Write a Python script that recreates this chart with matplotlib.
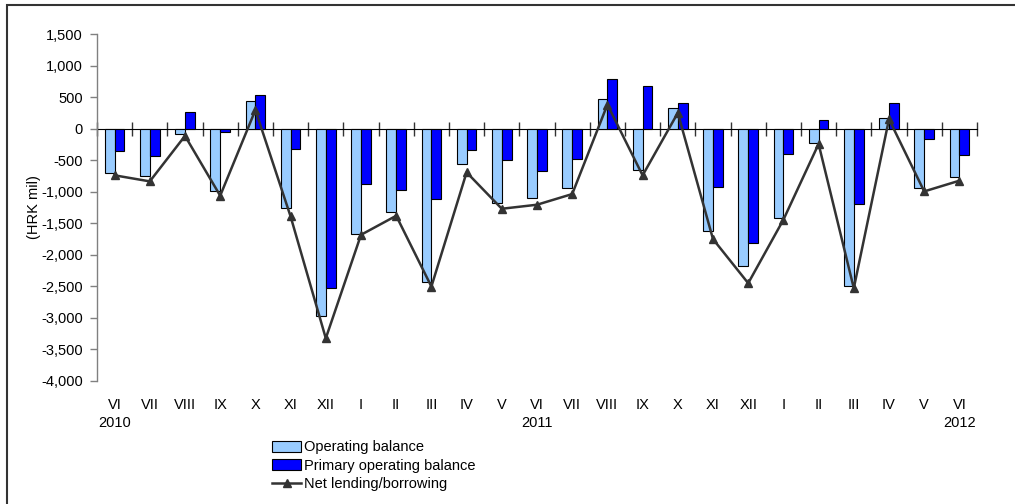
import numpy as np
import matplotlib
matplotlib.use('Agg')
import matplotlib.pyplot as plt
from matplotlib.patches import Rectangle
import matplotlib.transforms as mtransforms

plt.rcParams['font.family'] = ['Liberation Sans', 'DejaVu Sans']
FS = 10.5

# data (HRK mil), VI 2010 .. VI 2012
months = ['VI', 'VII', 'VIII', 'IX', 'X', 'XI', 'XII',
          'I', 'II', 'III', 'IV', 'V', 'VI', 'VII', 'VIII', 'IX', 'X', 'XI', 'XII',
          'I', 'II', 'III', 'IV', 'V', 'VI']
years = {0: '2010', 12: '2011', 24: '2012'}
operating = [-703, -746, -79, -995, 433, -1259, -2963,
             -1667, -1328, -2434, -566, -1185, -1095, -942, 466, -651, 333, -1624, -2185,
             -1413, -228, -2487, 169, -942, -767]
primary = [-354, -429, 270, -52, 529, -317, -2529,
           -878, -973, -1116, -338, -503, -677, -481, 794, 672, 402, -921, -1820,
           -407, 138, -1201, 407, -164, -418]
net_lending = [-740, -836, -115, -1063, 295, -1392, -3323,
               -1683, -1381, -2503, -693, -1270, -1206, -1037, 381, -741, 249, -1751, -2450,
               -1444, -243, -2529, 150, -995, -825]

x = np.arange(len(months))
W, H = 1015, 504
fig = plt.figure(figsize=(W / 100, H / 100), dpi=100)
ax = fig.add_axes([97 / W, 1 - 381 / H, 880 / W, 347 / H])

bw = 0.28
b1 = ax.bar(x - bw, operating, width=bw, align='edge', color='#99CCFF', edgecolor='black',
            linewidth=0.8, label='Operating balance', zorder=2)
b2 = ax.bar(x, primary, width=bw, align='edge', color='#0000FF', edgecolor='black',
            linewidth=0.8, label='Primary operating balance', zorder=2)
l1, = ax.plot(x, net_lending, color='#333333', linewidth=1.8, marker='^', markersize=6,
              label='Net lending/borrowing', zorder=3)

ax.set_xlim(-0.5, len(months) - 0.5)
ax.set_ylim(-4000, 1500)
ax.set_yticks(np.arange(-4000, 1501, 500))
ax.yaxis.set_major_formatter(matplotlib.ticker.FuncFormatter(lambda v, p: f'{int(v):,}'))
ax.tick_params(axis='y', direction='out', length=5, width=1, color='#808080', pad=5, labelsize=FS)
ax.set_ylabel('(HRK mil)', fontsize=FS, labelpad=0)

for s in ['top', 'right', 'bottom']:
    ax.spines[s].set_visible(False)
ax.spines['left'].set_color('#808080')
ax.spines['left'].set_linewidth(1)

# month labels below the plot
ax.set_xticks(x)
ax.set_xticklabels(months)
ax.tick_params(axis='x', length=0, pad=12, labelsize=FS)

# zero line with category separators
sec = ax.secondary_xaxis(4000 / 5500)
sec.spines['bottom'].set_color('black')
sec.spines['bottom'].set_linewidth(1)
sec.set_xticks(np.arange(-0.5, len(months) + 0.5, 1))
sec.set_xticklabels([])
sec.tick_params(direction='inout', length=10, width=1, color='#333333')

trans = mtransforms.blended_transform_factory(ax.transData, ax.transAxes)
for i, yr in years.items():
    ax.text(i, -0.12, yr, transform=trans, ha='center', va='center', fontsize=FS)

fig.legend([b1, b2, l1], [b1.get_label(), b2.get_label(), l1.get_label()],
           loc='upper left', bbox_to_anchor=(265 / W, 1 - 433 / H), frameon=False,
           borderpad=0, handlelength=2.0, handleheight=0.75, handletextpad=0.2,
           labelspacing=0.3, fontsize=FS)

fig.patches.append(Rectangle((7 / W, -0.1), 1.2, 1 - 5 / H + 0.1, transform=fig.transFigure,
                             fill=False, edgecolor='#333333', linewidth=1.5))

fig.savefig('out.png', dpi=100)
